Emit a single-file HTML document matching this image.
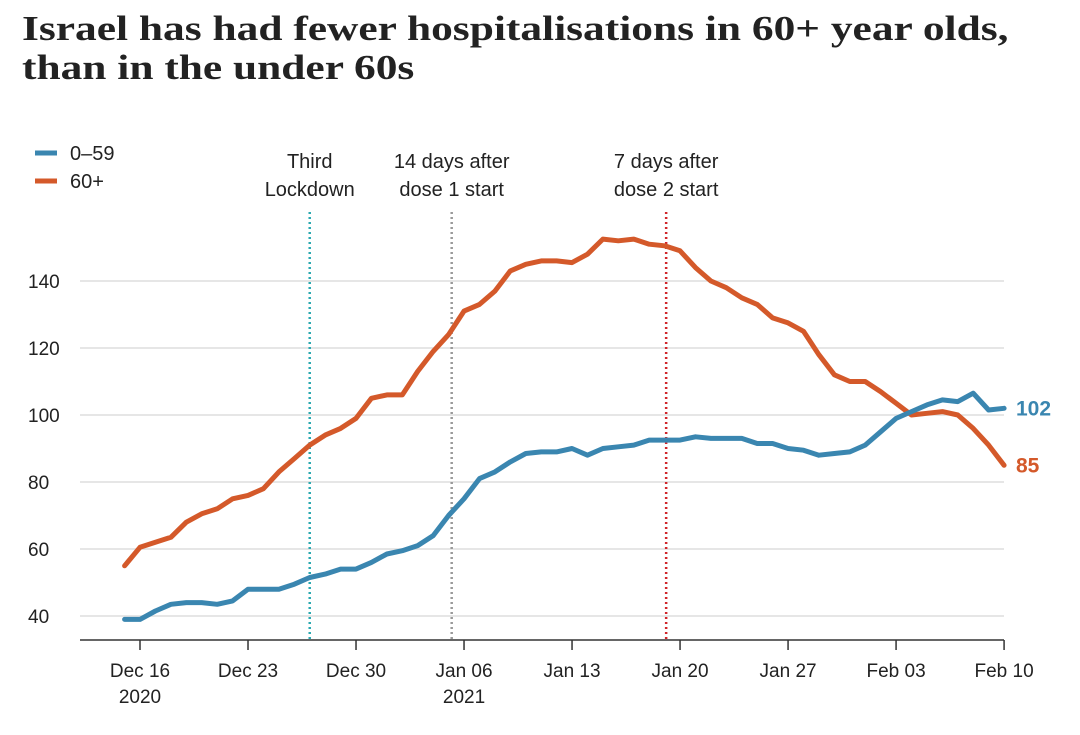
<!DOCTYPE html>
<html><head><meta charset="utf-8"><style>
body{margin:0;background:#fff;width:1080px;height:735px;overflow:hidden;font-family:"Liberation Sans",sans-serif}
h1{position:absolute;left:22px;top:9px;margin:0;font:bold 35px/39px "Liberation Serif",serif;color:#222;transform:scaleX(1.24);transform-origin:0 0;white-space:nowrap}
</style></head><body>
<h1>Israel has had fewer hospitalisations in 60+ year olds,<br>than in the under 60s</h1>
<svg id="c" width="1080" height="735" style="position:absolute;left:0;top:0"></svg>
<script>
const days=[];for(let d=-1;d<=56;d++)days.push(d);
const orange=[55,60.5,62,63.5,68,70.5,72,75,76,78,83,87,91,94,96,99,105,106,106,113,119,124,131,133,137,143,145,146,146,145.5,148,152.5,152,152.5,151,150.5,149,144,140,138,135,133,129,127.5,125,118,112,110,110,107,103.5,100,100.5,101,100,96,91,85];
const blue=[39,39,41.5,43.5,44,44,43.5,44.5,48,48,48,49.5,51.5,52.5,54,54,56,58.5,59.5,61,64,70,75,81,83,86,88.5,89,89,90,88,90,90.5,91,92.5,92.5,92.5,93.5,93,93,93,91.5,91.5,90,89.5,88,88.5,89,91,95,99,101,103,104.5,104,106.5,101.5,102];
const yTicks=[40,60,80,100,120,140];
const xTickDays=[0,7,14,21,28,35,42,49,56];
const xTickLabels=[["Dec 16","2020"],["Dec 23"],["Dec 30"],["Jan 06","2021"],["Jan 13"],["Jan 20"],["Jan 27"],["Feb 03"],["Feb 10"]];
const events=[{d:11,c:"#2aa8b0",l:["Third","Lockdown"]},{d:20.2,c:"#999",l:["14 days after","dose 1 start"]},{d:34.1,c:"#d0262b",l:["7 days after","dose 2 start"]}];
const X=d=>140+d*15.43, Y=v=>415-(v-100)*3.35;
const s=document.getElementById('c');const NS="http://www.w3.org/2000/svg";
function el(t,a,txt){const e=document.createElementNS(NS,t);for(const k in a)e.setAttribute(k,a[k]);if(txt!=null)e.textContent=txt;s.appendChild(e);return e;}
yTicks.forEach(v=>{
const g=el('line',{x1:80,x2:1004,y1:Y(v),y2:Y(v),stroke:'#ddd','stroke-width':1.5});


const t=el('text',{x:28,y:Y(v)+7,'font-size':19,fill:'#222'},v);


});
const ax=el('line',{x1:80,x2:1004,y1:640,y2:640,stroke:'#333','stroke-width':1.5});


xTickDays.forEach((d,i)=>{
const tk=el('line',{x1:X(d),x2:X(d),y1:640,y2:650,stroke:'#333','stroke-width':1.5});


xTickLabels[i].forEach((l,j)=>{
const t=el('text',{x:X(d),y:677+j*26,'font-size':19,fill:'#222','text-anchor':'middle'},l);


});
});
events.forEach(ev=>{
const ln=el('line',{x1:X(ev.d),x2:X(ev.d),y1:212,y2:640,stroke:ev.c,'stroke-width':2.5,'stroke-dasharray':'2,3'});


ev.l.forEach((l,j)=>{
const t=el('text',{x:X(ev.d),y:168+j*28,'font-size':20,fill:'#222','text-anchor':'middle'},l);


});
});
function path(arr,c,name){
const p=el('path',{d:arr.map((v,i)=>(i?'L':'M')+X(days[i]).toFixed(1)+','+Y(v).toFixed(1)).join(''),fill:'none',stroke:c,'stroke-width':5,'stroke-linejoin':'round','stroke-linecap':'round'});


}
path(orange,'#d4592a','line-60-plus');
path(blue,'#3a86b0','line-0-59');
const lb=el('text',{x:1016,y:Y(blue[blue.length-1])+7,'font-size':21,'font-weight':'bold',fill:'#3a86b0'},blue[blue.length-1]);


const lo=el('text',{x:1016,y:Y(orange[orange.length-1])+7,'font-size':21,'font-weight':'bold',fill:'#d4592a'},orange[orange.length-1]);


[['0–59','#3a86b0',160],['60+','#d4592a',188]].forEach(([l,c,y])=>{
const r=el('line',{x1:35,x2:57,y1:y-7,y2:y-7,stroke:c,'stroke-width':5});


const t=el('text',{x:70,y:y,'font-size':20,fill:'#222'},l);


});
</script>
</body></html>
